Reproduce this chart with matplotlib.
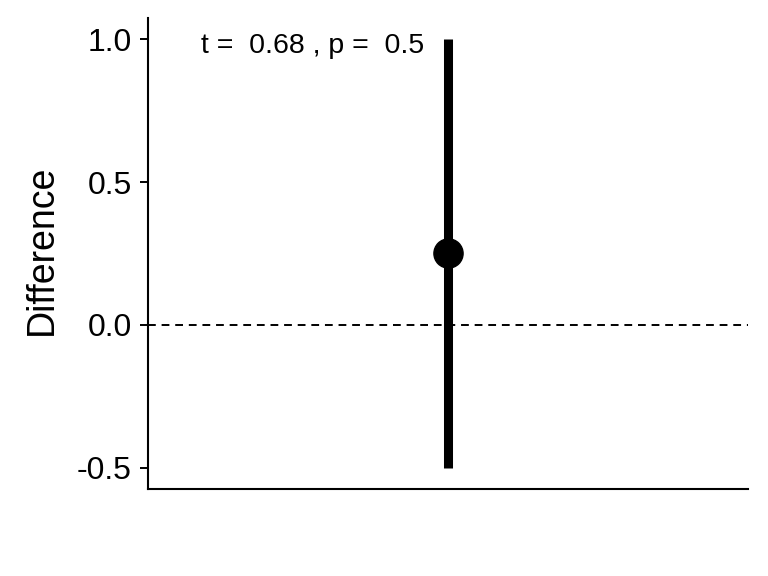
import matplotlib
matplotlib.use("Agg")
import matplotlib.pyplot as plt

# data
groups = [1]
mean_diff = [0.25]
ci_low = [-0.5]
ci_high = [1.0]
t_stat = 0.68
p_val = 0.5

plt.rcParams["font.family"] = ["Liberation Sans", "DejaVu Sans"]

fig = plt.figure(figsize=(7.68, 5.76), dpi=100)
ax = fig.add_axes([0.193, 0.151, 0.781, 0.818])

ax.axhline(0, color="black", linestyle=(0, (4, 3)), linewidth=1.4, zorder=1)
ax.vlines(groups, ci_low, ci_high, color="black", linewidth=6.5, zorder=2)
ax.plot(groups, mean_diff, "o", color="black", markersize=21, zorder=3)

ax.text(0.728, 0.978, f"t =  {t_stat} , p =  {p_val}",
        ha="center", va="center", fontsize=20.5)

ax.set_xlim(0.4, 1.6)
ax.set_ylim(-0.575, 1.075)
ax.set_yticks([-0.5, 0.0, 0.5, 1.0])
ax.set_yticklabels(["-0.5", "0.0", "0.5", "1.0"])
ax.set_xticks([])
ax.set_ylabel("Difference", fontsize=27)
ax.yaxis.set_label_coords(-0.148, 0.507)
ax.tick_params(axis="y", labelsize=23, length=6, width=1.4, pad=6, color="black")
for side in ["top", "right"]:
    ax.spines[side].set_visible(False)
for side in ["left", "bottom"]:
    ax.spines[side].set_linewidth(1.5)

fig.savefig("out.png", dpi=100)
